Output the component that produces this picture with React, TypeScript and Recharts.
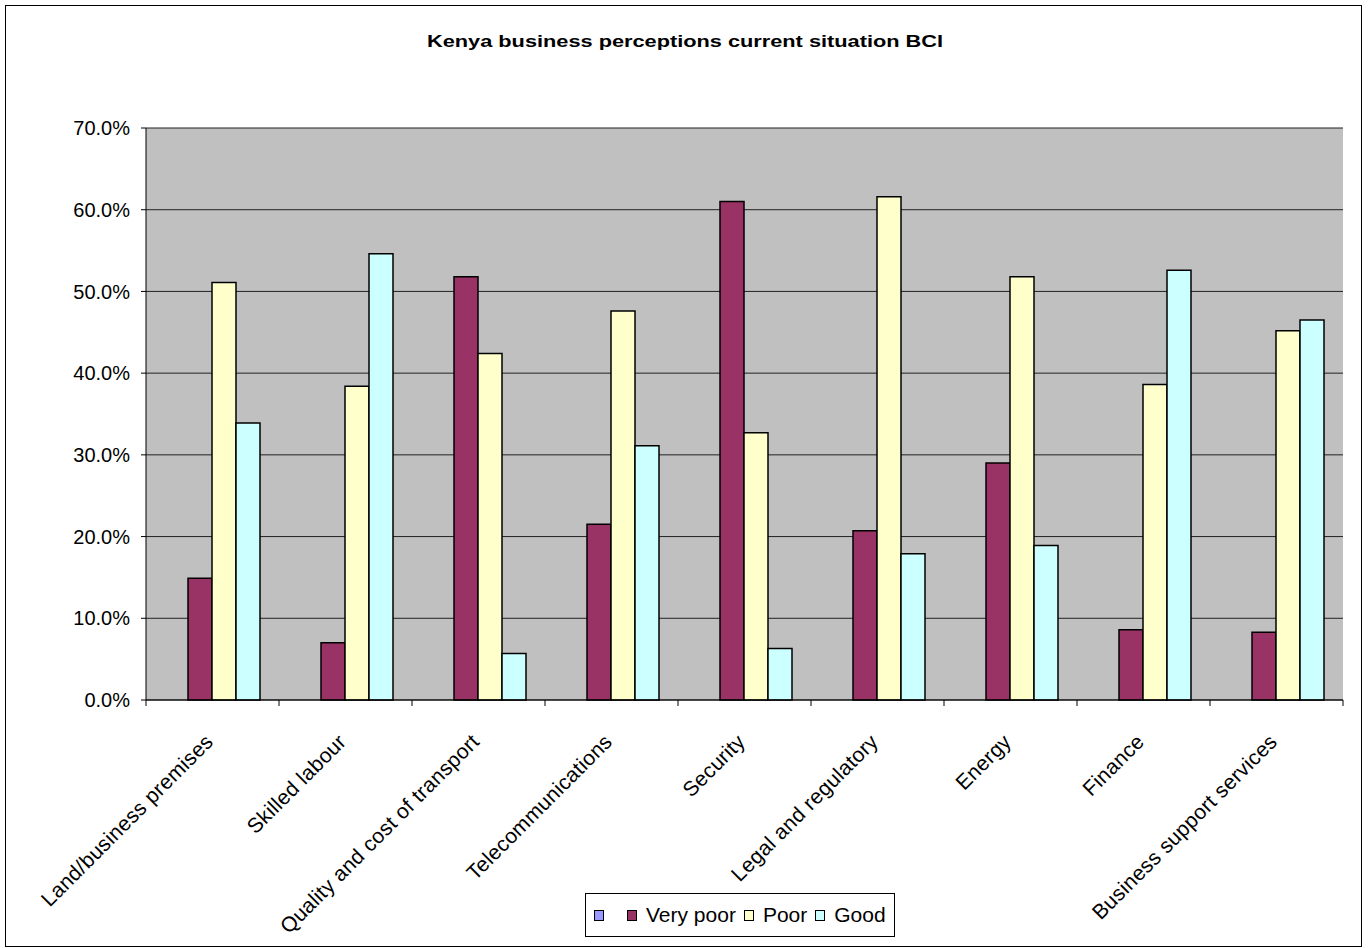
import React from "react";
import { BarChart, Bar, XAxis, YAxis, CartesianGrid } from "recharts";

const categories = [
    "Land/business premises",
    "Skilled labour",
    "Quality and cost of transport",
    "Telecommunications",
    "Security",
    "Legal and regulatory",
    "Energy",
    "Finance",
    "Business support services",
];

// first series in the source has no name and no values
const blankSeries: (number | null)[] = [null, null, null, null, null, null, null, null, null];
const veryPoor = [14.9, 7.0, 51.8, 21.5, 61.0, 20.7, 29.0, 8.6, 8.3];
const poor = [51.1, 38.4, 42.4, 47.6, 32.7, 61.6, 51.8, 38.6, 45.2];
const good = [33.9, 54.6, 5.7, 31.1, 6.3, 17.9, 18.9, 52.6, 46.5];

const yTicks = [0, 10, 20, 30, 40, 50, 60, 70];

const seriesList = [
    { key: "blank", name: "", color: "#9999FF" },
    { key: "veryPoor", name: "Very poor", color: "#993366" },
    { key: "poor", name: "Poor", color: "#FFFFCC" },
    { key: "good", name: "Good", color: "#CCFFFF" },
];

const data = categories.map((name, i) => ({
    name,
    blank: blankSeries[i],
    veryPoor: veryPoor[i],
    poor: poor[i],
    good: good[i],
}));

const W = 1369;
const H = 948;
const FONT = "'Liberation Sans', Arial, Helvetica, sans-serif";
const margin = { top: 128, right: 26, bottom: 188, left: 66 };
const Y_W = 80;
const X_H = 60;
const bandHalf = (W - margin.left - Y_W - margin.right) / categories.length / 2;

function CategoryTick({ x, y, payload, index, visibleTicksCount }: any) {
    const half = payload?.offset || bandHalf;
    const axisY = y - 8;
    const tx = x + 2;
    const ty = axisY + 43;
    return (
        <g>
            <line x1={x - half} x2={x - half} y1={axisY} y2={axisY + 6} stroke="#000" />
            {index === visibleTicksCount - 1 && (
                <line x1={x + half} x2={x + half} y1={axisY} y2={axisY + 6} stroke="#000" />
            )}
            <text
                x={tx}
                y={ty}
                transform={`rotate(-45 ${tx} ${ty})`}
                textAnchor="end"
                fill="#000"
                fontSize={21}
                letterSpacing={0.3}
                fontFamily={FONT}
            >
                {payload.value}
            </text>
        </g>
    );
}

export default function App() {
    return (
        <div style={{ position: "absolute", left: 0, top: 0, width: W, height: H, background: "#fff", fontFamily: FONT }}>
            {/* outer chart border */}
            <div
                style={{
                    position: "absolute",
                    left: 5,
                    top: 5,
                    width: 1355,
                    height: 940,
                    border: "1px solid #000",
                }}
            />

            <BarChart
                width={W}
                height={H}
                data={data}
                margin={margin}
                barCategoryGap={18}
                barGap={0}
                style={{ position: "absolute", left: 0, top: 0 }}
            >
                <CartesianGrid vertical={false} fill="#C0C0C0" stroke="#222" strokeWidth={1} />
                <XAxis
                    dataKey="name"
                    height={X_H}
                    interval={0}
                    tickLine={false}
                    axisLine={{ stroke: "#000", strokeWidth: 1 }}
                    tick={<CategoryTick />}
                />
                <YAxis
                    width={Y_W}
                    domain={[0, 70]}
                    ticks={yTicks}
                    interval={0}
                    tickFormatter={(v: number) => v.toFixed(1) + "%"}
                    tickSize={5}
                    tickMargin={11}
                    tickLine={{ stroke: "#000" }}
                    axisLine={{ stroke: "#000", strokeWidth: 1 }}
                    tick={{ fill: "#000", fontSize: 20, fontFamily: FONT }}
                />
                <YAxis
                    yAxisId="r"
                    orientation="right"
                    width={0}
                    domain={[0, 70]}
                    tick={false}
                    tickLine={false}
                    axisLine={{ stroke: "#808080", strokeWidth: 1 }}
                />
                {seriesList.map((s) => (
                    <Bar
                        key={s.key}
                        dataKey={s.key}
                        name={s.name}
                        fill={s.color}
                        stroke="#000"
                        strokeWidth={1.5}
                        isAnimationActive={false}
                    />
                ))}
            </BarChart>

            {/* title */}
            <svg width={W} height={70} style={{ position: "absolute", left: 0, top: 0 }}>
                <text
                    x={685}
                    y={47}
                    textAnchor="middle"
                    fontSize={17}
                    fontWeight="bold"
                    fontFamily={FONT}
                    textLength={516}
                    lengthAdjust="spacingAndGlyphs"
                    fill="#000"
                >
                    Kenya business perceptions current situation BCI
                </text>
            </svg>

            {/* legend */}
            <div
                style={{
                    position: "absolute",
                    left: 585,
                    top: 893,
                    width: 310,
                    height: 44,
                    border: "1px solid #000",
                    background: "#fff",
                    display: "flex",
                    alignItems: "center",
                    paddingLeft: 8,
                    boxSizing: "border-box",
                    fontSize: 21,
                    color: "#000",
                }}
            >
                {seriesList.map((s) => (
                    <div key={s.key} style={{ display: "flex", alignItems: "center", marginRight: s.name ? 8 : 23 }}>
                        <span
                            style={{
                                display: "inline-block",
                                width: 8,
                                height: 9,
                                background: s.color,
                                border: "1.5px solid #000",
                                marginRight: s.name ? 9 : 0,
                            }}
                        />
                        {s.name && <span>{s.name}</span>}
                    </div>
                ))}
            </div>
        </div>
    );
}
